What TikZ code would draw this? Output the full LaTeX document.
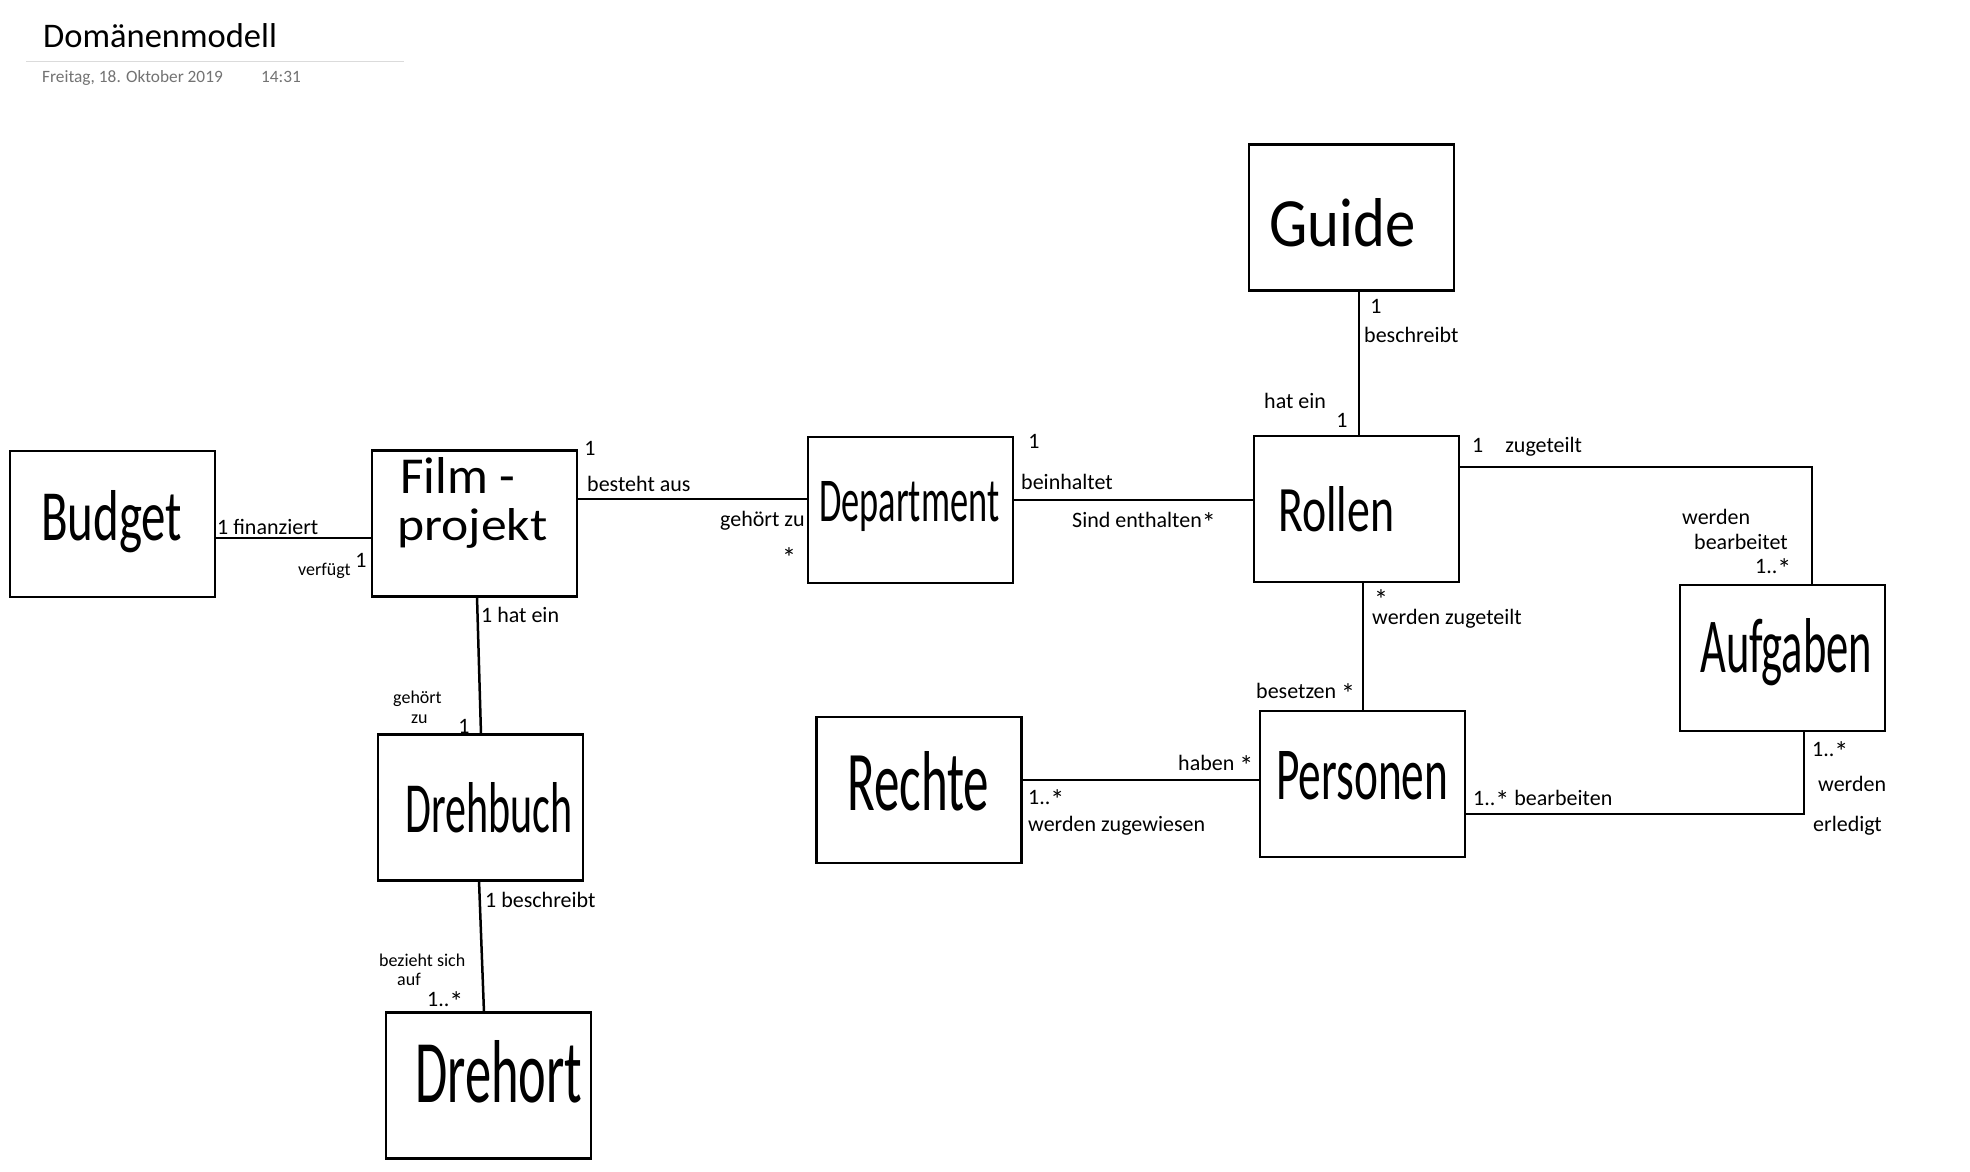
\documentclass[tikz,border=0pt]{standalone}
\usepackage{fontspec}
\setmainfont{Carlito}
\usepackage{graphicx}
\newcommand\hw[3]{\resizebox{#1pt}{#2pt}{#3}}
\newcommand\bigstar{\raisebox{-5pt}[10pt][0pt]{\fontsize{28}{28}\selectfont *}}
\begin{document}
\begin{tikzpicture}[x=1pt,y=-1pt,
  box/.style={draw=black, line width=2.5pt, minimum width=205pt, minimum height=146pt, inner sep=0pt, outer sep=0pt},
  conn/.style={line width=2.5pt, draw=black},
  big/.style={anchor=base west, inner sep=0pt},
  lab/.style={anchor=base west, inner sep=0pt, font=\fontsize{22}{22}\selectfont},
  smalllab/.style={anchor=base west, inner sep=0pt, font=\fontsize{18}{18}\selectfont},
  mult/.style={inner sep=0pt, font=\fontsize{22}{22}\selectfont},
  starmult/.style={inner sep=0pt, anchor=base, font=\fontsize{28}{28}\selectfont},
]
\fill[white] (0,0) rectangle (1970,1172);
\useasboundingbox (0,0) rectangle (1970,1172);

% header
\node[anchor=base west, inner sep=0pt, font=\fontsize{34.5}{34.5}\selectfont] (title) at (43,48) {Domänenmodell};
\draw[line width=1pt, draw=black!14] (26,62) -- (404,62);
\node[anchor=base west, inner sep=0pt, text=black!55, font=\fontsize{17.3}{17.3}\selectfont] (date) at (42,82) {Freitag, 18. Oktober 2019};
\node[anchor=base west, inner sep=0pt, text=black!55, font=\fontsize{17.3}{17.3}\selectfont] (time) at (261,82) {14:31};

% boxes
\node[box] (budget) at (112.5,524) {};
\node[box] (film) at (474.5,523.5) {};
\node[box] (dept) at (910.5,510) {};
\node[box] (rollen) at (1356.5,509) {};
\node[box] (guide) at (1351.5,217.5) {};
\node[box] (aufgaben) at (1782.5,658) {};
\node[box] (personen) at (1362.5,784) {};
\node[box] (rechte) at (919,790) {};
\node[box] (drehbuch) at (480.5,807.5) {};
\node[box] (drehort) at (488.5,1085.5) {};

% box texts
\node[big] (tBudget) at (41,540) {\hw{141}{50}{Budget}};
\node[big] (tFilm) at (400,493) {\hw{115}{36}{Film -}};
\node[big] (tProjekt) at (397,540) {\hw{150}{32}{projekt}};
\node[big] (tDept) at (819,521) {\hw{180}{40}{Department}};
\node[big] (tGuide) at (1269,246) {\hw{146}{48}{Guide}};
\node[big] (tRollen) at (1278,531) {\hw{116}{45}{Rollen}};
\node[big] (tAufg) at (1700,672) {\hw{172}{54}{Aufgaben}};
\node[big] (tPers) at (1276,799) {\hw{172}{48}{Personen}};
\node[big] (tRechte) at (847,810) {\hw{142}{59}{Rechte}};
\node[big] (tDrehbuch) at (405,832) {\hw{167}{50}{Drehbuch}};
\node[big] (tDrehort) at (415,1102) {\hw{167}{62}{Drehort}};

% connectors
\draw[conn] (budget.east |- 0,538) -- (film.west |- 0,538);
\draw[conn] (film.east |- 0,499) -- (dept.west |- 0,499);
\draw[conn] (dept.east |- 0,500) -- (rollen.west |- 0,500);
\draw[conn] (guide.south -| 1359,0) -- (rollen.north -| 1359,0);
\draw[conn] (rollen.east |- 0,467) -| (aufgaben.north -| 1812,0);
\draw[conn] (rollen.south -| 1363,0) -- (personen.north -| 1363,0);
\draw[conn] (rechte.east |- 0,780) -- (personen.west |- 0,780);
\draw[conn] (personen.east |- 0,814) -| (aufgaben.south -| 1804,0);
\draw[conn] (film.south -| 477,0) -- (drehbuch.north -| 481,0);
\draw[conn] (drehbuch.south -| 479,0) -- (drehort.north -| 484,0);

% labels
\node[lab] (l1) at (217,534) {1 finanziert};
\node[smalllab] (l2) at (298,575) {verfügt};
\node[mult] (m2) at (361,560) {1};
\node[mult] (m3) at (590,448) {1};
\node[lab] (l3) at (587,491) {besteht aus};
\node[lab] (l4) at (720,526) {gehört zu};
\node[starmult] (m4) at (789,567) {*};
\node[mult] (m5) at (1034,441) {1};
\node[lab] (l5) at (1021,489) {beinhaltet};
\node[lab] (l6) at (1072,527) {Sind enthalten\bigstar};
\node[mult] (m7) at (1376,306) {1};
\node[lab] (l7) at (1364,342) {beschreibt};
\node[lab] (l8) at (1264,408) {hat ein};
\node[mult] (m8) at (1342,420) {1};
\node[lab] (l9) at (1472,452) {1\quad zugeteilt};
\node[lab] (l10a) at (1682,524) {werden};
\node[lab] (l10b) at (1694,549) {bearbeitet};
\node[lab] (l10c) at (1755,573) {1..\bigstar};
\node[starmult] (m11) at (1381,609) {*};
\node[lab] (l11) at (1372,624) {werden zugeteilt};
\node[lab] (l12) at (1256,698) {besetzen \bigstar};
\node[lab] (l13) at (1178,770) {haben \bigstar};
\node[lab] (l14a) at (1028,804) {1..\bigstar};
\node[lab] (l14b) at (1028,831) {werden zugewiesen};
\node[lab] (l15) at (1473,805) {1..\bigstar\ bearbeiten};
\node[lab] (l16a) at (1812,756) {1..\bigstar};
\node[lab] (l16b) at (1818,791) {werden};
\node[lab] (l16c) at (1813,831) {erledigt};
\node[lab] (l17) at (481,622) {1 hat ein};
\node[smalllab] (l18a) at (393,703) {gehört};
\node[smalllab] (l18b) at (411,723) {zu};
\node[mult] (m18) at (464,726) {1};
\node[lab] (l19) at (485,907) {1 beschreibt};
\node[smalllab] (l20a) at (379,966) {bezieht sich};
\node[smalllab] (l20b) at (397,985) {auf};
\node[lab] (l20c) at (427,1006) {1..\bigstar};
\end{tikzpicture}
\end{document}
